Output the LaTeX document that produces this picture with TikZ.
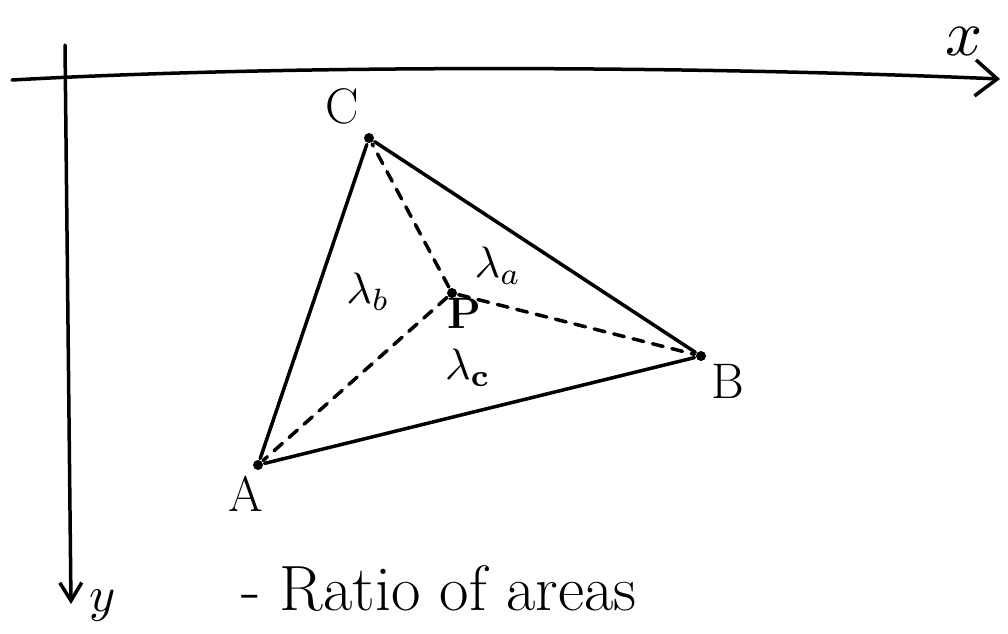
\documentclass[tikz,border=0pt]{standalone}
\usepackage{graphicx}
\usetikzlibrary{arrows.meta}

\tikzset{
  pt/.style={circle, fill=black, inner sep=0pt, minimum size=10pt},
  lab/.style={font=\fontsize{50}{54}\selectfont},
  axis/.style={-{Straight Barb[length=22pt, width=36pt]}},
}
\newcommand{\bigmath}[2]{\scalebox{#1}{$#2$}}

\begin{document}
\begin{tikzpicture}[x=1pt, y=-1pt, line width=3.5pt, line cap=round]
\useasboundingbox (0,0) rectangle (1008,633);
% axes
\coordinate (xs) at (12,80);
\coordinate (xe) at (1000,79);
\coordinate (ys) at (65,45);
\coordinate (ye) at (71,604);
\draw[axis] (xs) .. controls (300,64) and (700,66) .. (xe);
\draw[-{Straight Barb[length=18pt, width=22pt]}] (ys) -- (ye);
\node (xlab) at (964,42) {\bigmath{6.5}{x}};
\node (ylab) at (103,606) {\bigmath{5}{y}};
% triangle corners and inner point
\node[pt] (C) at (369,138) {};
\node[pt] (B) at (701,356) {};
\node[pt] (A) at (258,465) {};
\node[pt] (P) at (452,293) {};
\node[lab] (Clab) at (342,106) {C};
\node[lab] (Blab) at (728,381) {B};
\node[lab] (Alab) at (246,494) {A};
\node[lab, font=\fontsize{44}{48}\bfseries] (Plab) at (464,313) {P};
% sides
\draw (A) -- (B) -- (C) -- (A);
% dashed splits
\draw[dash pattern=on 11pt off 9pt] (P) -- (A);
\draw[dash pattern=on 11pt off 9pt] (P) -- (B);
\draw[dash pattern=on 11pt off 9pt] (P) -- (C);
% area weights
\node (lb) at (368,292) {\bigmath{4.4}{\lambda_b}};
\node (la) at (498,266) {\bigmath{4.4}{\lambda_a}};
\node (lc) at (468,368) {\bigmath{4.4}{\lambda_{\mathbf{c}}}};
% caption
\node[font=\fontsize{64}{68}\selectfont, anchor=base west] (cap) at (236,610) {- Ratio of areas};
\end{tikzpicture}
\end{document}
